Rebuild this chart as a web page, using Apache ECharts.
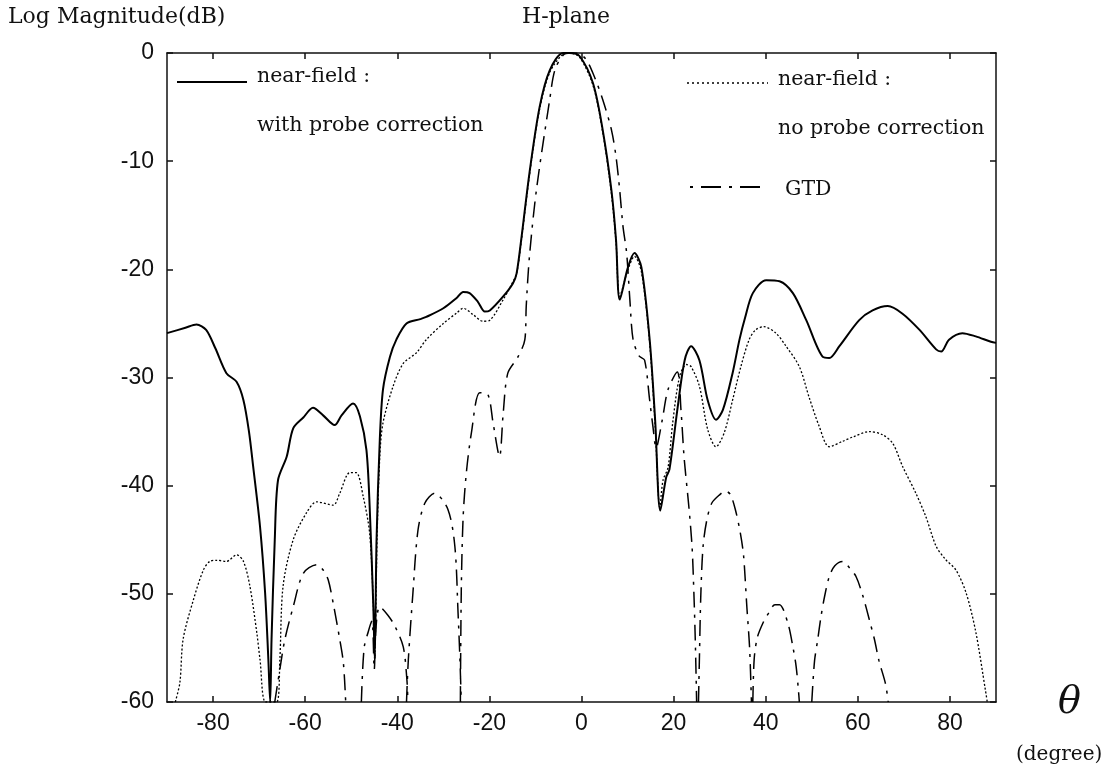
<!DOCTYPE html>
<html lang="en">
<head>
    <meta charset="UTF-8">
    <title>H-plane</title>
    <script src="https://cdn.jsdelivr.net/npm/echarts@6/dist/echarts.min.js"></script>
    <style>
        html, body { margin: 0; padding: 0; background: #fff; }
        #chart { width: 1117px; height: 774px; }
    </style>
</head>
<body>
    <div id="chart"></div>
    <script>
    // x ticks every 20 degrees, y ticks every 10 dB
    var xTicks = [-80, -60, -40, -20, 0, 20, 40, 60, 80];

    // near-field with probe correction (solid)
    var solidDeg = [-90, -86, -83.6, -81.5, -79.5, -77.1, -74.9, -73.4, -72.2, -71.3, -69.8, -68.7, -68, -67.6, -67.3, -66.6, -65.9,
        -64, -62.6, -60.4, -58.3, -56.1, -53.6, -52.1, -49.6, -48.1, -46.7, -46, -45.2, -44.9, -44.5, -43.8, -43.1, -41.6, -40.2,
        -38, -35, -33.7, -30, -27, -25.7, -24.3, -22.5, -21, -19.9, -17, -14.9, -14.1, -13.1, -11.3, -9.1, -6.9, -4, -2.6,
        -0.4, 2.5, 4.6, 6.5, 7.5, 8.3, 10.1, 11.5, 13, 14.8, 16, 17.1, 18.4, 19.1, 20.9, 22.4, 23.8, 25.6, 27.4, 29.2, 30.7, 32.8,
        34.3, 35.5, 37.2, 40.1, 43, 45.9, 48.8, 52.4, 53.8, 56, 60.3, 63.2, 66.5, 69.7, 73.4, 77, 78.1, 79.8, 82.7, 85.6, 88.9, 90];
    var solidDb = [-25.9, -25.4, -25.1, -25.6, -27.3, -29.6, -30.4, -32.1, -35, -38.2, -43.8, -49.9, -56, -60, -54.2, -45, -39.5,
        -37.3, -34.7, -33.7, -32.8, -33.5, -34.4, -33.5, -32.4, -33.6, -36.7, -41.9, -51.2, -56, -45, -35.8, -31.1, -28.1, -26.5,
        -25, -24.6, -24.4, -23.6, -22.6, -22.1, -22.2, -23, -23.9, -23.8, -22.5, -21.3, -20.4, -17.3, -11.1, -5, -1.6, 0, 0,
        -0.3, -2.8, -7.1, -12.7, -17.3, -22.8, -19.8, -18.5, -19.8, -26.5, -34, -42.3, -39.2, -38.5, -32.7, -28.4, -27.1, -28.4, -32.1, -33.9, -33, -29.6,
        -26.5, -24.5, -22.2, -21, -21.1, -22.2, -24.7, -28.1, -28.2, -27.1, -24.7, -23.8, -23.4, -24.1, -25.6, -27.4, -27.6, -26.5, -25.9, -26.2, -26.7, -26.8];

    // near-field with no probe correction (dotted)
    var dottedDeg = [-88.2, -87.2, -86.5, -84.3, -82.1, -80.7, -79.2, -77.1, -74.9, -73.4, -72, -70.5, -69.8, -68.6, -66.2,
        -65.5, -64.8, -62.6, -59.7, -57.5, -53.9, -52.5, -50.3, -48.9, -47.4, -46, -45.2, -44.9, -44.4, -43.8, -43.1, -40.9,
        -38.7, -35.8, -33.7, -30, -27, -25.7, -23.5, -21.4, -19.9, -17, -15.2, -14.1, -13.1, -11.3, -9.1, -6.9, -4, -2.6,
        -0.4, 2.5, 4.6, 6.5, 7.5, 8.3, 10.1, 11.5, 13, 14.8, 16, 17, 17.7, 18.8, 19.8, 21.3, 22.8, 23.8, 25.6, 27.4, 29.2,
        31, 32.8, 34.6, 36.4, 37.8, 39.6, 42.2, 44.4, 47.3, 49.4, 51.6, 53.8, 56.7, 58.9, 62.5, 65.4, 67.6, 69.7, 72.6, 74.8,
        77, 79, 81.3, 83.5, 85.6, 87.7, 88.1];
    var dottedDb = [-60, -58.2, -54.2, -50.6, -47.8, -47, -46.9, -47, -46.4, -47, -49.3, -53.6, -56.1, -60, -60,
        -56.1, -49.3, -45, -42.5, -41.5, -41.8, -40.7, -38.8, -38.8, -41, -44.4, -51, -56, -45, -37.3, -34.2, -30.8,
        -28.7, -27.7, -26.5, -25, -24, -23.6, -24.2, -24.8, -24.7, -22.8, -21.4, -20.4, -17.5, -11.3, -5.2, -1.8, -0.1, 0,
        -0.4, -3, -7.3, -13, -17.5, -22.5, -20, -18.8, -20.2, -26.8, -34.5, -42, -39.5, -38.3, -34.2, -29.9, -28.8, -29, -30.8, -34.8, -36.4,
        -35.1, -32.1, -29, -26.5, -25.6, -25.3, -25.9, -27.1, -29, -31.8, -34.5, -36.4, -35.9, -35.5, -35, -35.3, -36.1, -38.2, -40.7, -42.9,
        -45.6, -46.8, -47.8, -49.9, -53.5, -58.9, -60];

    // GTD (dash-dot), null = gap between lobes
    var gtdDeg = [-66.6, -65.5, -64.4, -62.6, -60.4, -57.5, -56.1, -55, -53.9, -52.5, -51.7, -51.2, null,
        -47.8, -47.2, -46.3, -45.5, -45, -44.6, -43.8, -42, -40.5, -38.7, -37.9, -37.7, null,
        -38, -37.6, -36.6, -35.5, -34, -31.9, -29, -27.5, -26.8, -26.4, -26.1, null,
        -26.3, -26.1, -25.7, -25, -23.9, -22.1, -20.3, -19.2, -17.8, -17, -16, -13.8, -12.3, -12, -11.3, -9.8, -6.9, -5.8, -4, -2.5,
        -1, 1, 2.8, 4.6, 6.5, 7.5, 8.3, 9, 9.8, 10.5, 11.2, 12.5, 13.7, 14.8, 15.5, 16.2, 17.5, 18.8, 20.8, 21.6, 22.3, 23.3, 24,
        24.4, 24.7, 25, null,
        25.4, 25.6, 25.9, 26.4, 27.2, 28.3, 30.1, 31.2, 32.3, 33.4, 34.5, 35.2, 35.9, 36.5, 36.9, null,
        37.2, 37.5, 38.2, 39.5, 40.6, 42, 43, 44.8, 45.9, 46.6, 47.1, 47.3, null,
        50, 50.6, 51.3, 52, 52.8, 53.8, 55, 56.7, 58, 59.6, 61.1, 62.5, 63.6, 64.6, 66, 66.6];
    var gtdDb = [-60, -57, -54.2, -51.2, -48.1, -47.3, -47.8, -48.7, -50.9, -54.2, -56.4, -60, null,
        -60, -55, -53.5, -52.5, -57, -53, -51.2, -52, -53, -54.9, -58, -60, null,
        -60, -56.1, -49.9, -44.1, -41.6, -40.7, -42.2, -45.6, -51.8, -56, -60, null,
        -60, -49.6, -42.9, -38.8, -35.1, -31.4, -31.6, -34.2, -37.3, -33.3, -29.6, -28.1, -26.5, -23.4, -18.8, -12.7, -4.3, -1.6, -0.2, 0,
        0, -0.6, -2.2, -4.3, -7.1, -9.6, -12.7, -16, -18.5, -22.8, -26.5, -28, -28.4, -32.1, -34.5, -36.5, -34, -31.1, -29.5, -33, -37.5, -41.9, -45.6,
        -49.9, -54.2, -60, null,
        -60, -56, -50.2, -45.6, -43.2, -41.6, -40.8, -40.5, -40.8, -42.2, -44.4, -46.5, -51.2, -55, -60, null,
        -60, -56, -54, -52.6, -51.8, -51, -51, -52.7, -54.9, -56.7, -58.9, -60, null,
        -60, -56.2, -54.2, -52.1, -50.2, -48.4, -47.4, -47, -47.5, -48.4, -50.2, -52.4, -54.2, -56.2, -58.3, -60];

    function pairs(xs, ys) {
        return xs.map(function (x, i) {
            return x === null ? ['-', '-'] : [x, ys[i]];
        });
    }

    var chart = echarts.init(document.getElementById('chart'));

    var serif = 'DejaVu Serif';
    var sans = 'Liberation Sans';
    var ink = '#111';

    var tickStyle = { show: true, inside: true, length: 6, lineStyle: { color: ink, width: 1.5 } };
    var lineStyleAxis = { show: true, onZero: false, lineStyle: { color: ink, width: 1.5 } };

    var option = {
        backgroundColor: '#fff',
        animation: false,
        grid: { left: 167, top: 53, width: 829, height: 649, show: false },
        xAxis: [{
            type: 'value', position: 'bottom', min: -90, max: 90,
            axisLine: lineStyleAxis,
            axisTick: Object.assign({}, tickStyle, { customValues: xTicks }),
            axisLabel: { customValues: xTicks, color: ink, fontSize: 23, fontFamily: sans, margin: 10 },
            splitLine: { show: false }
        }, {
            type: 'value', position: 'top', min: -90, max: 90,
            axisLine: lineStyleAxis,
            axisTick: Object.assign({}, tickStyle, { customValues: xTicks }),
            axisLabel: { show: false },
            splitLine: { show: false }
        }],
        yAxis: [{
            type: 'value', position: 'left', min: -60, max: 0, interval: 10,
            axisLine: lineStyleAxis,
            axisTick: tickStyle,
            axisLabel: { color: ink, fontSize: 23, fontFamily: sans, margin: 13 },
            splitLine: { show: false }
        }, {
            type: 'value', position: 'right', min: -60, max: 0, interval: 10,
            axisLine: lineStyleAxis,
            axisTick: tickStyle,
            axisLabel: { show: false },
            splitLine: { show: false }
        }],
        series: [{
            name: 'with probe correction',
            type: 'line', showSymbol: false, smooth: 0.3,
            data: pairs(solidDeg, solidDb),
            lineStyle: { color: '#000', width: 2 }
        }, {
            name: 'no probe correction',
            type: 'line', showSymbol: false, smooth: 0.3,
            data: pairs(dottedDeg, dottedDb),
            lineStyle: { color: '#000', width: 1.3, type: [2, 2] }
        }, {
            name: 'GTD',
            type: 'line', showSymbol: false, smooth: 0.3, connectNulls: false,
            data: pairs(gtdDeg, gtdDb),
            lineStyle: { color: '#000', width: 1.5, type: [16, 7, 3, 7] }
        }],
        graphic: [
            { type: 'text', left: 8, top: 6, style: { text: 'Log Magnitude(dB)', font: '22px "' + serif + '"', fill: ink } },
            { type: 'text', left: 522, top: 6, style: { text: 'H-plane', font: '22px "' + serif + '"', fill: ink } },
            // legend
            { type: 'line', shape: { x1: 177, y1: 82, x2: 247, y2: 82 }, style: { stroke: '#000', lineWidth: 2 } },
            { type: 'text', left: 257, top: 66, style: { text: 'near-field :', font: '20.5px "' + serif + '"', fill: ink } },
            { type: 'text', left: 257, top: 115, style: { text: 'with probe correction', font: '20.5px "' + serif + '"', fill: ink } },
            { type: 'line', shape: { x1: 687, y1: 83, x2: 768, y2: 83 }, style: { stroke: '#000', lineWidth: 1.3, lineDash: [2, 3] } },
            { type: 'text', left: 778, top: 69, style: { text: 'near-field :', font: '20.5px "' + serif + '"', fill: ink } },
            { type: 'text', left: 778, top: 118, style: { text: 'no probe correction', font: '20.5px "' + serif + '"', fill: ink } },
            { type: 'line', shape: { x1: 690, y1: 187, x2: 768, y2: 187 }, style: { stroke: '#000', lineWidth: 2, lineDash: [3, 8, 20, 8] } },
            { type: 'text', left: 785, top: 179, style: { text: 'GTD', font: '20.5px "' + serif + '"', fill: ink } },
            // axis name on x
            { type: 'text', left: 1058, top: 684, style: { text: 'θ', font: 'italic 38px "' + serif + '"', fill: ink } },
            { type: 'text', left: 1016, top: 745, style: { text: '(degree)', font: '20px "' + serif + '"', fill: ink } }
        ]
    };

    chart.setOption(option);
    </script>
</body>
</html>
